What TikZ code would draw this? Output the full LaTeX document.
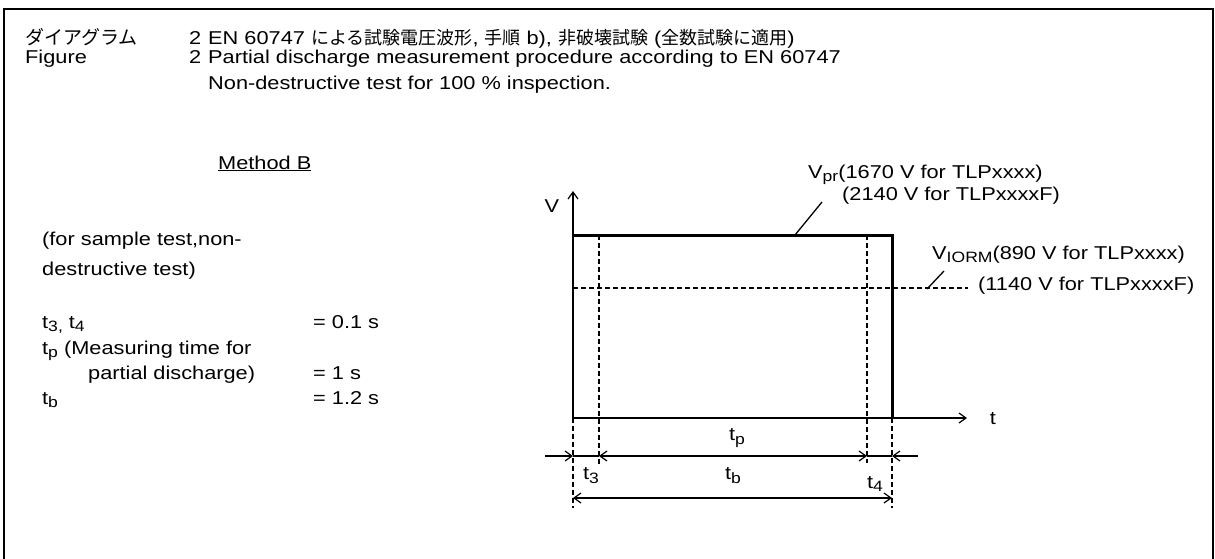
\documentclass[tikz,border=0pt]{standalone}
\usepackage{fontspec}
\setmainfont[FakeStretch=1.17]{Liberation Sans}
\newfontfamily\cjk{Noto Sans CJK JP}
\usetikzlibrary{arrows.meta}
\newcommand\sbx[1]{\raisebox{-0.4ex}{\fontsize{15}{15}\selectfont #1}}
\newcommand\jp[1]{{\cjk\fontsize{19}{19}\selectfont #1}}
\newcommand\jps[1]{{\cjk\fontsize{18}{18}\selectfont #1}}
\tikzset{
  txt/.style={anchor=base west, inner sep=0pt, font=\fontsize{18.6}{18.6}\selectfont},
  lbl/.style={inner sep=0pt, font=\fontsize{18.6}{18.6}\selectfont},
  thin/.style={line width=1.3pt},
  thick pulse/.style={line width=3pt},
  dsh/.style={line width=1.2pt, dash pattern=on 4.5pt off 3.5pt},
  tip/.style={-{Straight Barb[length=7pt,width=10pt,line width=1.2pt]}},
  tips/.style={{Straight Barb[length=7pt,width=10pt,line width=1.2pt]}-{Straight Barb[length=7pt,width=10pt,line width=1.2pt]}},
}
\begin{document}
\begin{tikzpicture}[x=1pt,y=-1pt]
\useasboundingbox (0,0) rectangle (1215,558);
\fill[white] (0,0) rectangle (1215,558);
% frame
\draw[line width=2.4pt] (4,570) -- (4,9) -- (1213,9) -- (1213,570);
% title
\node[txt] (jpn) at (25,44) {\jp{ダイアグラム}};
\node[txt] (fig) at (25,63) {Figure};
\node[txt] (n1) at (189,44) {2};
\node[txt] (n2) at (189,63) {2};
\node[txt] (l1) at (208,44) {EN 60747 \jps{による試験電圧波形}, \jps{手順} b), \jps{非破壊試験} (\jps{全数試験に適用})};
\node[txt] (l2) at (208,63) {Partial discharge measurement procedure according to EN 60747};
\node[txt] (l3) at (208,89) {Non-destructive test for 100 \% inspection.};
% left column
\node[txt] (meth) at (218,169) {\underline{Method B}};
\node[txt] (s1) at (42,245) {(for sample test,non-};
\node[txt] (s2) at (42,275) {destructive test)};
\node[txt] (t34) at (42,328) {t\sbx{3,} t\sbx{4}};
\node[txt] (e1) at (313,328) {= 0.1 s};
\node[txt] (tp1) at (42,354) {t\sbx{p} (Measuring time for};
\node[txt] (tp2) at (88,379) {partial discharge)};
\node[txt] (e2) at (313,379) {= 1 s};
\node[txt] (tb1) at (42,404) {t\sbx{b}};
\node[txt] (e3) at (313,404) {= 1.2 s};
% graph coordinates
\coordinate (O) at (573,418);
\coordinate (Vtop) at (573,191);
\coordinate (Tend) at (967,418);
\coordinate (P1) at (573,235);
\coordinate (P2) at (892,235);
\coordinate (P3) at (892,418);
% axes
\draw[thin,tip] (O) -- (Vtop);
\draw[thin,tip] (O) -- (Tend);
\node[lbl] (Vl) at (552,206) {V};
\node[lbl] (tl) at (993,419) {t};
% pulse
\draw[thick pulse] (P1) -- (P2) -- (P3);
% dashed lines
\coordinate (d1a) at (599,235); \coordinate (d1b) at (599,467);
\coordinate (d2a) at (867,235); \coordinate (d2b) at (867,463);
\coordinate (d3b) at (573,508);
\coordinate (d4b) at (892,508);
\coordinate (h1) at (573,288); \coordinate (h2) at (968,288);
\draw[dsh] (d1a) -- (d1b);
\draw[dsh] (d2a) -- (d2b);
\draw[dsh] (O) -- (d3b);
\draw[dsh] (P3) -- (d4b);
\draw[dsh] (h1) -- (h2);
% dimension line tp
\coordinate (a0) at (545,456); \coordinate (a1) at (573,456);
\coordinate (a2) at (599,456); \coordinate (a3) at (867,456);
\coordinate (a4) at (892,456); \coordinate (a5) at (918,456);
\draw[thin,tip] (a0) -- (a1);
\draw[thin] (a1) -- (a2);
\draw[thin,tips] (a2) -- (a3);
\draw[thin] (a3) -- (a4);
\draw[thin,tip] (a5) -- (a4);
\coordinate (b1) at (573,498); \coordinate (b2) at (892,498);
\draw[thin,tips] (b1) -- (b2);
\node[lbl] (tpl) at (737,438) {t\sbx{p}};
\node[lbl] (t3l) at (591,476) {t\sbx{3}};
\node[lbl] (tbl) at (733,476) {t\sbx{b}};
\node[lbl] (t4l) at (875,484) {t\sbx{4}};
% Vpr label
\node[txt] (vpr1) at (808,178) {V\sbx{pr}(1670 V for TLPxxxx)};
\node[txt] (vpr2) at (842,200) {(2140 V for TLPxxxxF)};
\coordinate (vprA) at (795,235); \coordinate (vprB) at (822,202);
\draw[thin] (vprA) -- (vprB);
% VIORM label
\node[txt] (vi1) at (932,259) {V\sbx{IORM}(890 V for TLPxxxx)};
\node[txt] (vi2) at (978,290) {(1140 V for TLPxxxxF)};
\coordinate (viA) at (927,289); \coordinate (viB) at (944,271);
\draw[thin] (viA) -- (viB);
\end{tikzpicture}
\end{document}
